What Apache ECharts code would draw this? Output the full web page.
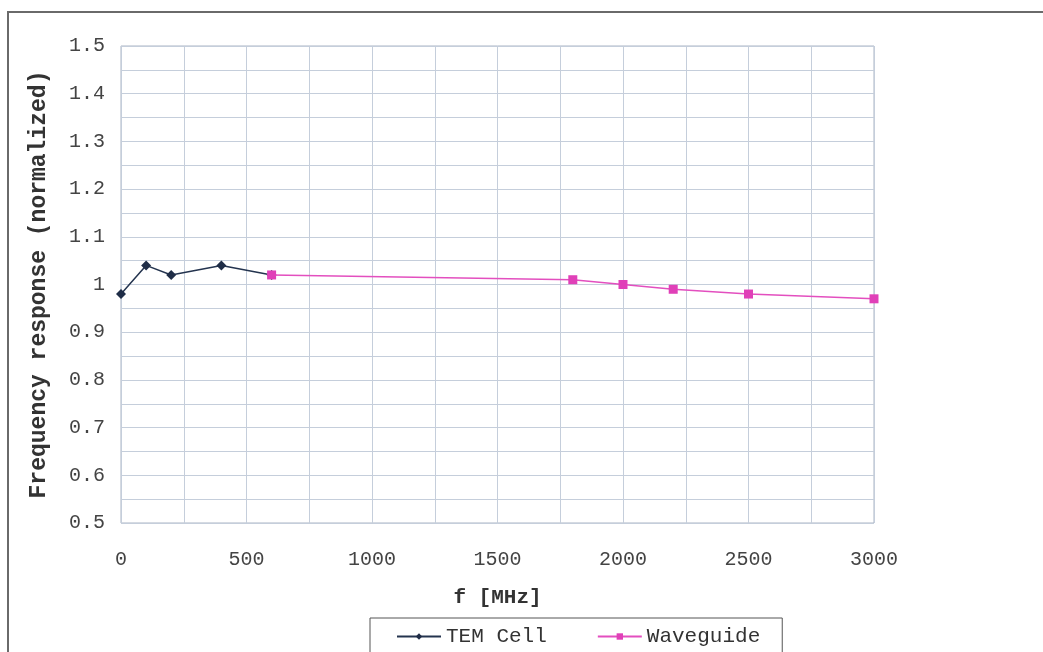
<!DOCTYPE html>
<html><head><meta charset="utf-8">
<script src="https://cdn.jsdelivr.net/npm/echarts@6/dist/echarts.min.js"></script>
<style>html,body{margin:0;padding:0;background:#fff}#c{width:1043px;height:652px}</style>
</head><body><div id="c"></div>
<script>
const temFreq = [0, 100, 200, 400, 600];
const temResp = [0.98, 1.04, 1.02, 1.04, 1.02];
const wgFreq = [600, 1800, 2000, 2200, 2500, 3000];
const wgResp = [1.02, 1.01, 1.00, 0.99, 0.98, 0.97];
const seriesNames = ['TEM Cell', 'Waveguide'];
const xName = 'f [MHz]';
const yName = 'Frequency response (normalized)';

const font = '"Liberation Mono", "DejaVu Sans Mono", monospace';
const chart = echarts.init(document.getElementById('c'));
const gridColor = '#c5cedb';
chart.setOption({
  animation: false,
  backgroundColor: '#fff',
  graphic: [{
    type: 'rect', shape: { x: 8, y: 12, width: 1100, height: 700 },
    style: { fill: 'none', stroke: '#6a6a6a', lineWidth: 2 }, silent: true, z: -1
  }],
  grid: { left: 121, right: 169, top: 46, bottom: 129, show: true, borderColor: '#aab4c4', borderWidth: 1, backgroundColor: 'transparent' },
  legend: {
    top: 618, left: 370, width: 413,
    itemWidth: 44, itemHeight: 8, itemGap: 50,
    padding: [8, 22, 20, 26],
    borderColor: '#555', borderWidth: 1, borderRadius: 0,
    textStyle: { fontFamily: font, fontSize: 21, color: '#333' },
    data: seriesNames
  },
  xAxis: {
    type: 'value', min: 0, max: 3000, interval: 500,
    name: xName, nameLocation: 'middle', nameGap: 64,
    nameTextStyle: { fontFamily: font, fontSize: 21, fontWeight: 'bold', color: '#333' },
    axisLine: { show: false }, axisTick: { show: false },
    axisLabel: { fontFamily: font, fontSize: 20, color: '#444', margin: 27, formatter: v => String(v) },
    splitLine: { lineStyle: { color: gridColor, width: 1 } },
    minorTick: { show: false, splitNumber: 2 },
    minorSplitLine: { show: true, lineStyle: { color: gridColor, width: 1 } }
  },
  yAxis: {
    type: 'value', min: 0.5, max: 1.5, interval: 0.1,
    name: yName, nameLocation: 'middle', nameGap: 70,
    nameTextStyle: { fontFamily: font, fontSize: 23, fontWeight: 'bold', color: '#333' },
    axisLine: { show: false }, axisTick: { show: false },
    axisLabel: { fontFamily: font, fontSize: 20, color: '#444', margin: 16,
      formatter: v => (Math.abs(v - 1) < 1e-9 ? '1' : v.toFixed(1)) },
    splitLine: { lineStyle: { color: gridColor, width: 1 } },
    minorTick: { show: false, splitNumber: 2 },
    minorSplitLine: { show: true, lineStyle: { color: gridColor, width: 1 } }
  },
  series: [
    {
      name: seriesNames[0], type: 'line',
      data: temFreq.map((f, i) => [f, temResp[i]]),
      symbol: 'diamond', symbolSize: 10,
      lineStyle: { color: '#24344f', width: 1.5 },
      itemStyle: { color: '#1f2d47' }, z: 3
    },
    {
      name: seriesNames[1], type: 'line',
      data: wgFreq.map((f, i) => [f, wgResp[i]]),
      symbol: 'rect', symbolSize: 9,
      lineStyle: { color: '#e34fbf', width: 1.5 },
      itemStyle: { color: '#e040b8' }, z: 4
    }
  ]
});
</script></body></html>
